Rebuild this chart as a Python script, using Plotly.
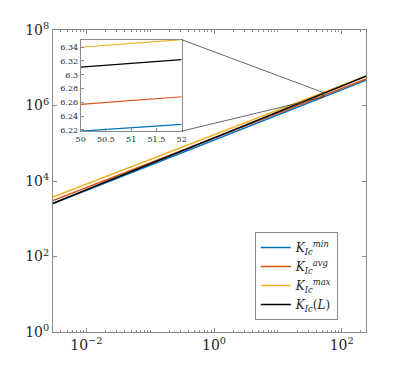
import math

import plotly.graph_objects as go

# main curves, K_Ic against L (log-log)
L_vals = [0.003, 50, 240]
K_min = [2512, 1.652e6, 4.70e6]
K_avg = [3020, 1.807e6, 5.07e6]
K_max = [3758, 2.188e6, 6.11e6]
K_L = [2570, 2.046e6, 6.01e6]

# inset: log10(K) on a linear L window
inset_L = [50, 52]
inset_min = [6.218, 6.228]
inset_avg = [6.257, 6.268]
inset_max = [6.340, 6.351]
inset_KL = [6.311, 6.322]

x_ticks = [0.01, 1, 100]
x_ticktext = ["10<sup>−2</sup>", "10<sup>0</sup>", "10<sup>2</sup>"]
y_ticks = [1, 100, 1e4, 1e6, 1e8]
y_ticktext = ["10<sup>0</sup>", "10<sup>2</sup>", "10<sup>4</sup>", "10<sup>6</sup>", "10<sup>8</sup>"]

names = [
    "<i>K</i><sub><i>Ic</i></sub><sup><i>min</i></sup>",
    "<i>K</i><sub><i>Ic</i></sub><sup><i>avg</i></sup>",
    "<i>K</i><sub><i>Ic</i></sub><sup><i>max</i></sup>",
    "<i>K</i><sub><i>Ic</i></sub>(<i>L</i>)",
]
colors = ["#0072BD", "#D95319", "#EDB120", "#000000"]

FONT = "DejaVu Serif"
AX_COL = "#8a8a8a"
TXT_COL = "#262626"

x_rng = [math.log10(0.003), math.log10(240)]
y_rng = [0, 8]
inset_x_rng = [50, 52]
inset_y_rng = [6.218, 6.351]
in_dom_x = [0.0885, 0.411]
in_dom_y = [0.665, 0.968]

fig = go.Figure()
for name, col, ys in zip(names, colors, [K_min, K_avg, K_max, K_L]):
    fig.add_trace(go.Scatter(x=L_vals, y=ys, mode="lines", name=name,
                             line=dict(color=col, width=1.5)))

for col, ys in zip(colors, [inset_min, inset_avg, inset_max, inset_KL]):
    fig.add_trace(go.Scatter(x=inset_L, y=ys, mode="lines", showlegend=False,
                             line=dict(color=col, width=1.2),
                             xaxis="x2", yaxis="y2"))

# zoom box on the main axes
bx0, bx1 = inset_x_rng
by0, by1 = 10 ** inset_y_rng[0], 10 ** inset_y_rng[1]
fig.add_trace(go.Scatter(x=[bx0, bx1, bx1, bx0, bx0], y=[by0, by0, by1, by1, by0],
                         mode="lines", showlegend=False,
                         line=dict(color="#404040", width=0.8)))


def to_paper(xv, yv):
    px_ = (math.log10(xv) - x_rng[0]) / (x_rng[1] - x_rng[0])
    py_ = (math.log10(yv) - y_rng[0]) / (y_rng[1] - y_rng[0])
    return px_, py_


tx, ty = to_paper(bx0, by1)
ux, uy = to_paper(bx0, by0)
fig.add_shape(type="line", xref="paper", yref="paper",
              x0=in_dom_x[1], y0=in_dom_y[1], x1=tx, y1=ty,
              line=dict(color="#404040", width=0.8))
fig.add_shape(type="line", xref="paper", yref="paper",
              x0=in_dom_x[1], y0=in_dom_y[0], x1=ux, y1=uy,
              line=dict(color="#404040", width=0.8))

axis_common = dict(showline=True, linecolor=AX_COL, linewidth=1, mirror="ticks",
                   ticks="inside", tickcolor=AX_COL, showgrid=False, zeroline=False,
                   tickfont=dict(family=FONT, size=14, color=TXT_COL))

fig.update_layout(
    width=405, height=373,
    # the page body adds 8px on the top/left, so shift the plot area back
    margin=dict(l=45, r=47, t=19, b=49),
    plot_bgcolor="white", paper_bgcolor="white",
    font=dict(family=FONT, color=TXT_COL),
    xaxis=dict(type="log", range=x_rng, tickvals=x_ticks, ticktext=x_ticktext,
               ticklen=4, minor=dict(ticks="inside", ticklen=2, tickcolor=AX_COL, dtick="D1"),
               **axis_common),
    yaxis=dict(type="log", range=y_rng, tickvals=y_ticks, ticktext=y_ticktext,
               ticklen=4, **axis_common),
    xaxis2=dict(domain=in_dom_x, anchor="y2", range=inset_x_rng, dtick=0.5,
                showline=True, linecolor=AX_COL, mirror=True, ticks="inside",
                tickcolor=AX_COL, ticklen=3, showgrid=False, zeroline=False,
                tickfont=dict(family=FONT, size=8, color=TXT_COL)),
    yaxis2=dict(domain=in_dom_y, anchor="x2", range=inset_y_rng, dtick=0.02, tick0=6.22,
                showline=True, linecolor=AX_COL, mirror=True, ticks="inside",
                tickcolor=AX_COL, ticklen=3, showgrid=False, zeroline=False,
                tickfont=dict(family=FONT, size=8, color=TXT_COL)),
    legend=dict(x=0.91, y=0.04, xanchor="right", yanchor="bottom",
                bgcolor="white", bordercolor=AX_COL, borderwidth=1,
                font=dict(family=FONT, size=12, color=TXT_COL),
                tracegroupgap=0, itemwidth=30),
)

fig.write_html("out.html")
